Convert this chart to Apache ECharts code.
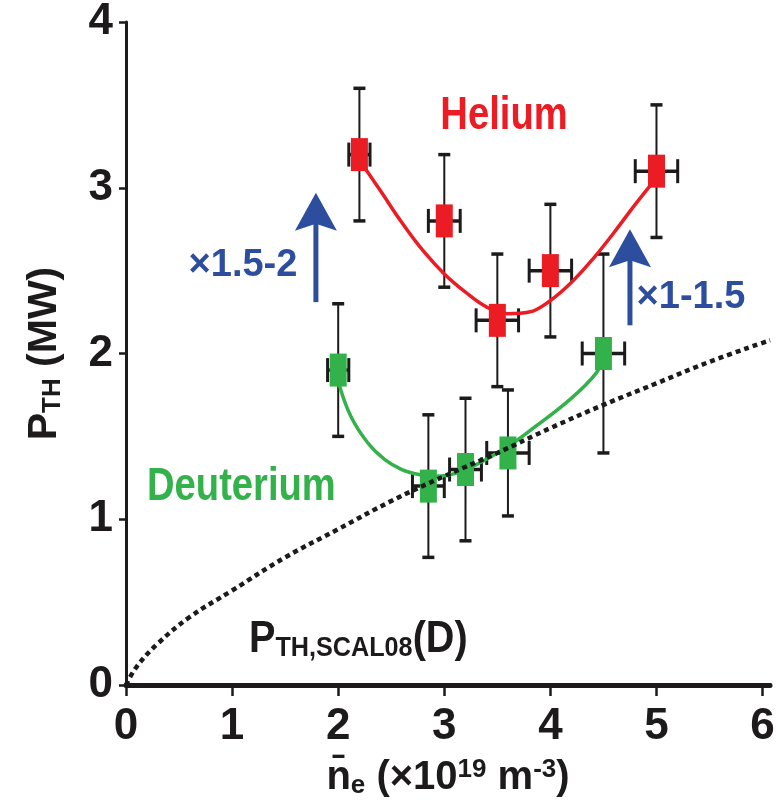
<!DOCTYPE html>
<html>
<head>
<meta charset="utf-8">
<script src="https://cdn.jsdelivr.net/npm/echarts@6/dist/echarts.min.js"></script>
<style>
  html, body { margin: 0; padding: 0; background: #ffffff; }
  #chart { width: 779px; height: 807px; }
</style>
</head>
<body>
<div id="chart"></div>
<script>
// Helium: line-averaged density (1e19 m^-3), threshold power (MW) and uncertainties
const heliumDensity = [2.2, 3.0, 3.5, 4.0, 5.0];
const heliumPower = [3.2, 2.8, 2.2, 2.5, 3.1];
const heliumDensityErr = [0.1, 0.15, 0.2, 0.2, 0.2];
const heliumPowerErr = [0.4, 0.4, 0.4, 0.4, 0.4];

// Deuterium: same quantities
const deuteriumDensity = [2.0, 2.85, 3.2, 3.6, 4.5];
const deuteriumPower = [1.9, 1.2, 1.3, 1.4, 2.0];
const deuteriumDensityErr = [0.1, 0.15, 0.15, 0.2, 0.2];
const deuteriumPowerErr = [0.4, 0.43, 0.43, 0.38, 0.6];

// Guide-to-the-eye trend curves
const heliumTrendX = [2.25, 2.4, 2.6, 2.8, 3.0, 3.2, 3.4, 3.6, 3.8, 4.0, 4.2, 4.4, 4.6, 4.8, 5.0];
const heliumTrendY = [3.12, 2.98, 2.79, 2.62, 2.48, 2.37, 2.28, 2.24, 2.25, 2.32, 2.43, 2.57, 2.73, 2.90, 3.06];
const deuteriumTrendX = [2.01, 2.12, 2.28, 2.44, 2.6, 2.76, 2.91, 3.2, 3.6, 3.86, 4.18, 4.43, 4.5];
const deuteriumTrendY = [1.81, 1.62, 1.46, 1.36, 1.30, 1.27, 1.26, 1.30, 1.44, 1.56, 1.72, 1.88, 1.98];

// 2008 threshold scaling for deuterium
const scalingX = [0, 0.1, 0.3, 0.6, 1.0, 1.5, 2.0, 2.5, 3.0, 3.5, 4.0, 4.5, 5.0, 5.5, 6.07];
const scalingY = [0, 0.11, 0.25, 0.41, 0.57, 0.77, 0.94, 1.11, 1.26, 1.40, 1.55, 1.69, 1.82, 1.95, 2.08];

// Isotope-factor arrows: [density, power at tail, power at tip]
const arrows = [[1.79, 2.31, 2.97], [4.75, 2.17, 2.75]];

const xTickValues = [0, 1, 2, 3, 4, 5, 6];
const yTickValues = [0, 1, 2, 3, 4];

const RED = '#ec1c24';
const GREEN = '#33b14a';
const BLUE = '#2d4d9f';
const INK = '#1c1a1b';
const FONT = '"Liberation Sans", Arial, sans-serif';
const CONDENSE = 0.83;

const zip = (a, b) => a.map((v, i) => [v, b[i]]);

function errorBarSeries(name, xs, ys, xe, ye, color) {
  return {
    type: 'custom',
    name: name,
    z: 3,
    encode: { x: 0, y: 1 },
    data: xs.map((x, i) => [x, ys[i], xe[i], ye[i]]),
    renderItem: function (params, api) {
      const x = api.value(0), y = api.value(1), dx = api.value(2), dy = api.value(3);
      const c = api.coord([x, y]);
      const l = api.coord([x - dx, y]);
      const r = api.coord([x + dx, y]);
      const t = api.coord([x, y + dy]);
      const b = api.coord([x, y - dy]);
      const seg = (x1, y1, x2, y2, w) => ({
        type: 'line',
        shape: { x1: x1, y1: y1, x2: x2, y2: y2 },
        style: { stroke: INK, lineWidth: w }
      });
      return {
        type: 'group',
        children: [
          seg(t[0], t[1], b[0], b[1], 2),
          seg(t[0] - 6, t[1], t[0] + 6, t[1], 3.5),
          seg(b[0] - 6, b[1], b[0] + 6, b[1], 3.5),
          seg(l[0], l[1], r[0], r[1], 3.5),
          seg(l[0], l[1] - 12, l[0], l[1] + 12, 3),
          seg(r[0], r[1] - 12, r[0], r[1] + 12, 3),
          {
            type: 'rect',
            shape: { x: c[0] - 8.5, y: c[1] - 16.5, width: 17, height: 33 },
            style: { fill: color }
          }
        ]
      };
    }
  };
}

const chart = echarts.init(document.getElementById('chart'), null, { renderer: 'canvas' });

chart.setOption({
  animation: false,
  backgroundColor: '#ffffff',
  grid: { left: 126, right: 9, top: 22, bottom: 122, outerBoundsMode: 'none', containLabel: false },
  xAxis: [
    {
      type: 'value',
      min: 0,
      max: 6.07,
      interval: 1,
      position: 'bottom',
      splitLine: { show: false },
      axisLine: { lineStyle: { color: INK, width: 5 } },
      axisTick: { show: true, inside: false, length: 11, customValues: xTickValues, lineStyle: { color: INK, width: 2.5 } },
      axisLabel: {
        customValues: xTickValues,
        margin: 20,
        color: INK,
        fontFamily: FONT,
        fontWeight: 'bold',
        fontSize: 44
      },
      name: '{n|n\u0304}{e|e}{n| (\u00d710}{sup|19}{n| m}{sup|-3}{n|)}',
      nameLocation: 'middle',
      nameGap: 72,
      nameTextStyle: {
        color: INK,
        rich: {
          n: { fontFamily: FONT, fontWeight: 'bold', fontSize: 40, lineHeight: 42, color: INK },
          e: { fontFamily: FONT, fontWeight: 'bold', fontSize: 26, lineHeight: 24, verticalAlign: 'bottom', color: INK },
          sup: { fontFamily: FONT, fontWeight: 'bold', fontSize: 26, lineHeight: 26, verticalAlign: 'top', color: INK }
        }
      }
    },
    {
      type: 'value',
      min: 0,
      max: 6.07,
      position: 'top',
      splitLine: { show: false },
      axisLine: { lineStyle: { color: INK, width: 4 } },
      axisTick: { show: false },
      axisLabel: { show: false }
    }
  ],
  yAxis: [
    {
      type: 'value',
      min: 0,
      max: 4,
      interval: 1,
      position: 'left',
      splitLine: { show: false },
      axisLine: { show: true, lineStyle: { color: INK, width: 2 } },
      axisTick: { show: true, inside: false, length: 7, lineStyle: { color: INK, width: 2.5 } },
      axisLabel: {
        margin: 13,
        color: INK,
        fontFamily: FONT,
        fontWeight: 'bold',
        fontSize: 44
      },
      name: '{p|P}{s|TH}{p| (MW)}',
      nameLocation: 'middle',
      nameGap: 60,
      nameTextStyle: {
        color: INK,
        rich: {
          p: { fontFamily: FONT, fontWeight: 'bold', fontSize: 41, lineHeight: 42, color: INK },
          s: { fontFamily: FONT, fontWeight: 'bold', fontSize: 26, lineHeight: 26, verticalAlign: 'bottom', color: INK }
        }
      }
    },
    {
      type: 'value',
      min: 0,
      max: 4,
      position: 'right',
      splitLine: { show: false },
      axisLine: { show: true, lineStyle: { color: INK, width: 3 } },
      axisTick: { show: false },
      axisLabel: { show: false }
    }
  ],
  series: [
    errorBarSeries('Helium', heliumDensity, heliumPower, heliumDensityErr, heliumPowerErr, RED),
    errorBarSeries('Deuterium', deuteriumDensity, deuteriumPower, deuteriumDensityErr, deuteriumPowerErr, GREEN),
    {
      type: 'line',
      name: 'Helium trend',
      z: 4,
      smooth: 0.4,
      symbol: 'none',
      data: zip(heliumTrendX, heliumTrendY),
      lineStyle: { color: RED, width: 3.5 }
    },
    {
      type: 'line',
      name: 'Deuterium trend',
      z: 4,
      smooth: 0.4,
      symbol: 'none',
      data: zip(deuteriumTrendX, deuteriumTrendY),
      lineStyle: { color: GREEN, width: 3.5 }
    },
    {
      type: 'line',
      name: 'Scaling 2008 (D)',
      z: 5,
      smooth: 0.4,
      symbol: 'none',
      data: zip(scalingX, scalingY),
      lineStyle: { color: INK, width: 4.5, type: [5, 4] }
    },
    {
      type: 'custom',
      name: 'Isotope factor',
      z: 6,
      encode: { x: 0, y: [1, 2] },
      data: arrows,
      renderItem: function (params, api) {
        const tail = api.coord([api.value(0), api.value(1)]);
        const tip = api.coord([api.value(0), api.value(2)]);
        const headH = 38, headW = 21, notch = 7;
        return {
          type: 'group',
          children: [
            {
              type: 'line',
              shape: { x1: tail[0], y1: tail[1], x2: tip[0], y2: tip[1] + headH - notch - 2 },
              style: { stroke: BLUE, lineWidth: 5 }
            },
            {
              type: 'polygon',
              shape: {
                points: [
                  [tip[0], tip[1]],
                  [tip[0] + headW, tip[1] + headH],
                  [tip[0], tip[1] + headH - notch],
                  [tip[0] - headW, tip[1] + headH]
                ]
              },
              style: { fill: BLUE }
            }
          ]
        };
      }
    }
  ],
  graphic: [
    {
      type: 'text', x: 504, y: 116, z: 10, scaleX: CONDENSE,
      style: { text: 'Helium', fill: RED, fontFamily: FONT, fontWeight: 'bold', fontSize: 46, align: 'center', verticalAlign: 'middle' }
    },
    {
      type: 'text', x: 147, y: 487, z: 10, scaleX: CONDENSE,
      style: { text: 'Deuterium', fill: GREEN, fontFamily: FONT, fontWeight: 'bold', fontSize: 46, align: 'left', verticalAlign: 'middle' }
    },
    {
      type: 'text', x: 243, y: 266, z: 10,
      style: { text: '\u00d71.5-2', fill: BLUE, fontFamily: FONT, fontWeight: 'bold', fontSize: 38, align: 'center', verticalAlign: 'middle' }
    },
    {
      type: 'text', x: 691, y: 298, z: 10,
      style: { text: '\u00d71-1.5', fill: BLUE, fontFamily: FONT, fontWeight: 'bold', fontSize: 38, align: 'center', verticalAlign: 'middle' }
    },
    {
      type: 'text', x: 249, y: 640, z: 10, scaleX: 0.9,
      style: {
        text: '{p|P}{s|TH,SCAL08}{p|(D)}',
        align: 'left',
        verticalAlign: 'middle',
        rich: {
          p: { fontFamily: FONT, fontWeight: 'bold', fontSize: 44, lineHeight: 44, fill: INK, color: INK },
          s: { fontFamily: FONT, fontWeight: 'bold', fontSize: 28, lineHeight: 26, verticalAlign: 'bottom', fill: INK, color: INK }
        }
      }
    }
  ]
});
</script>
</body>
</html>
